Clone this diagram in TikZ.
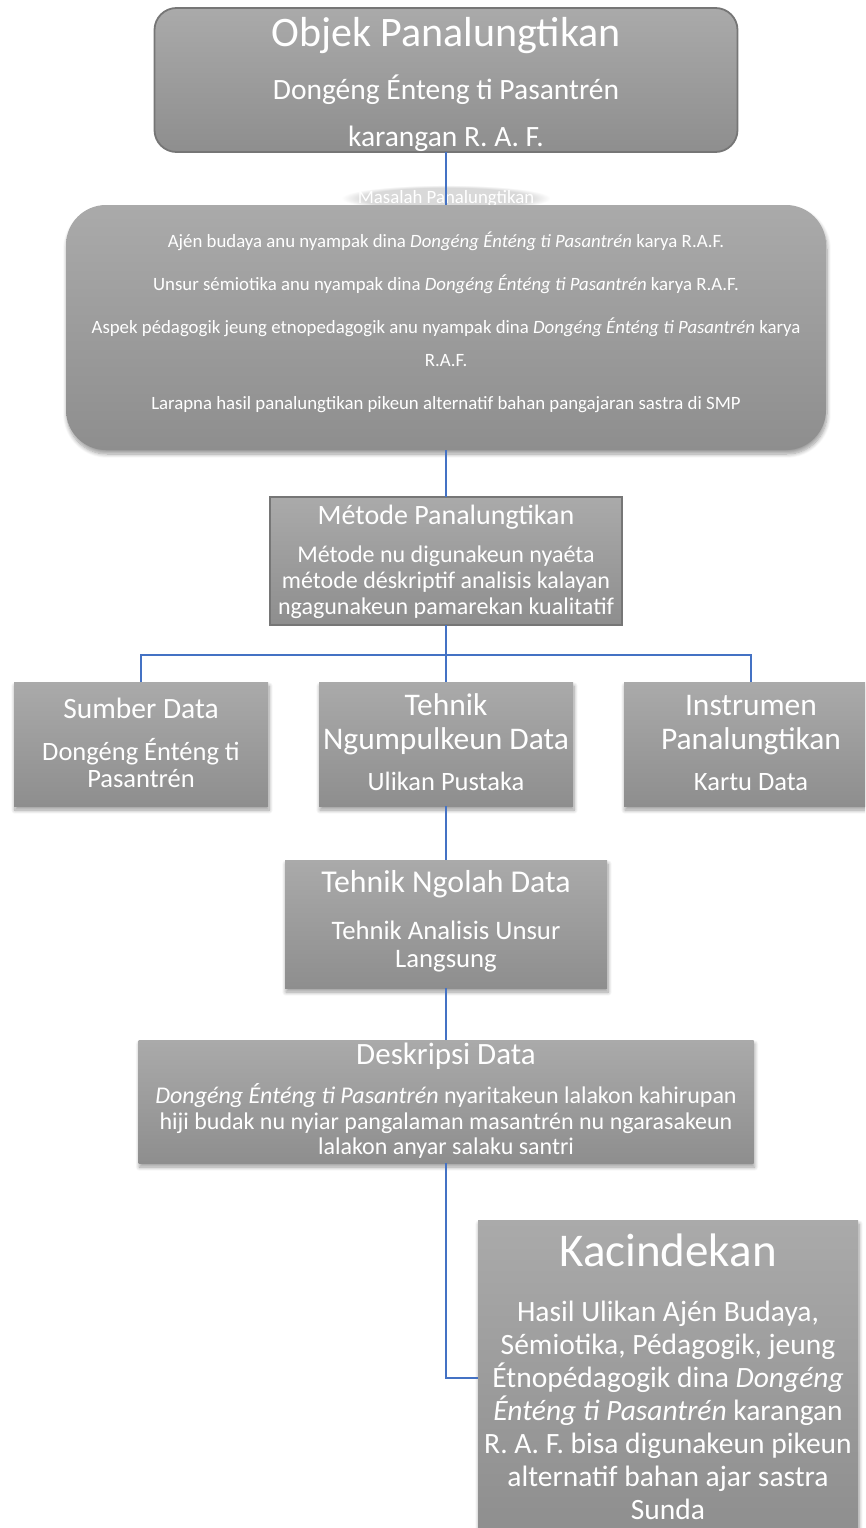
\documentclass[tikz,border=0pt]{standalone}
\usepackage{fontspec}
\setmainfont{Carlito}
\usepackage{tikz}
\usetikzlibrary{positioning, shadows.blur, fadings}
\definecolor{boxflat}{RGB}{165,165,165}
\definecolor{boxtop}{RGB}{170,170,170}
\definecolor{boxbottom}{RGB}{142,142,142}
\definecolor{boxline}{RGB}{118,118,118}
\definecolor{linkblue}{RGB}{68,114,196}
\tikzstyle{graybox} = [rectangle, inner sep=0pt, outer sep=0pt, align=center, text=white, top color=boxtop, bottom color=boxbottom]
\tikzstyle{boxshadow} = [blur shadow={shadow xshift=1pt, shadow yshift=-4pt, shadow blur radius=4pt, shadow blur steps=8, shadow opacity=40}]
\tikzstyle{objekbox} = [graybox, fill=boxflat, draw=boxline, line width=1.8pt, rounded corners=22pt, minimum width=583pt, text height=138pt, text depth=6pt, font=\fontsize{29.5}{47}\selectfont]
\tikzstyle{masalahbox} = [graybox, boxshadow, rounded corners=40pt, minimum width=760pt, text height=204.5pt, text depth=40.5pt, font=\fontsize{18.8}{33}\selectfont]
\tikzstyle{metodebox} = [graybox, fill=boxflat, draw=boxline, line width=1.8pt, minimum width=352pt, text height=117.5pt, text depth=10.5pt, font=\fontsize{24}{26}\selectfont]
\tikzstyle{databox} = [graybox, boxshadow, minimum width=254pt, text height=108.5pt, text depth=15.5pt, font=\fontsize{26.5}{34}\selectfont]
\tikzstyle{ngolahbox} = [graybox, boxshadow, minimum width=322pt, text height=107.5pt, text depth=20.5pt, font=\fontsize{26.7}{28}\selectfont]
\tikzstyle{deskripsibox} = [graybox, boxshadow, minimum width=615pt, text height=114.5pt, text depth=8.5pt, font=\fontsize{24}{25.5}\selectfont]
\tikzstyle{kacindekanbox} = [graybox, boxshadow, minimum width=380pt, text height=299pt, text depth=17pt, font=\fontsize{29.5}{33}\selectfont]
\tikzstyle{labelglow} = [inner xsep=16pt, inner ysep=5pt, outer sep=0pt, text=white, fill=black!15, path fading=circle with fuzzy edge 20 percent, font=\fontsize{18.8}{18.8}\selectfont]
\tikzstyle{connector} = [draw=linkblue, line width=1.8pt]
\newcommand{\ttl}[1]{\fontsize{#1}{#1}\selectfont}

\begin{document}
\begin{tikzpicture}
    \useasboundingbox (0pt,0pt) rectangle (865pt,-1528pt);
    \clip (0pt,0pt) rectangle (865pt,-1528pt);

    % Nodes
    \node (objek) [objekbox, anchor=north] at (446pt,-8pt) {{\ttl{42}Objek Panalungtikan}\\[6pt] Dongéng Énteng ti Pasantrén\\ karangan R. A. F.};
    \node (masalahlabel) [labelglow, below=33pt of objek] {Masalah Panalungtikan};
    \node (masalah) [masalahbox, below=53pt of objek] {Ajén budaya anu nyampak dina \textit{Dongéng Énténg ti Pasantrén} karya R.A.F.\\[10pt]
        Unsur sémiotika anu nyampak dina \textit{Dongéng Énténg ti Pasantrén} karya R.A.F.\\[10pt]
        Aspek pédagogik jeung etnopedagogik anu nyampak dina \textit{Dongéng Énténg ti Pasantrén} karya\\ R.A.F.\\[10pt]
        Larapna hasil panalungtikan pikeun alternatif bahan pangajaran sastra di SMP};
    \node (metode) [metodebox, below=47pt of masalah] {{\ttl{28}Métode Panalungtikan}\\[12pt] Métode nu digunakeun nyaéta\\ métode déskriptif analisis kalayan\\ ngagunakeun pamarekan kualitatif};
    \coordinate[below=30pt of metode] (fork);
    \node (ngumpul) [databox, below=57pt of metode] {{\ttl{31.5}Tehnik}\\ {\ttl{31.5}Ngumpulkeun Data}\\[7.5pt] Ulikan Pustaka};
    \node (sumber) [databox, left=51pt of ngumpul, text height=105.5pt, text depth=18.5pt, font=\fontsize{26.5}{27}\selectfont] {{\ttl{29.5}Sumber Data}\\[15.5pt] Dongéng Énténg ti\\ Pasantrén};
    \node (instrumen) [databox, right=51pt of ngumpul] {{\ttl{31.5}Instrumen}\\ {\ttl{31.5}Panalungtikan}\\[7.5pt] Kartu Data};
    \node (ngolah) [ngolahbox, below=54pt of ngumpul] {{\ttl{31.8}Tehnik Ngolah Data}\\[19.5pt] Tehnik Analisis Unsur\\ Langsung};
    \node (deskripsi) [deskripsibox, below=52pt of ngolah] {{\ttl{31}Deskripsi Data}\\[14pt] \textit{Dongéng Énténg ti Pasantrén} nyaritakeun lalakon kahirupan\\ hiji budak nu nyiar pangalaman masantrén nu ngarasakeun\\ lalakon anyar salaku santri};
    \node (kacindekan) [kacindekanbox, anchor=north west, below right=57pt and 32pt of deskripsi.south] {{\ttl{47}Kacindekan}\\[22pt] Hasil Ulikan Ajén Budaya,\\ Sémiotika, Pédagogik, jeung\\ Étnopédagogik dina \textit{Dongéng}\\ \textit{Énténg ti Pasantrén} karangan\\ R. A. F. bisa digunakeun pikeun\\ alternatif bahan ajar sastra\\ Sunda};

    % Lines
    \draw [connector] (objek) -- (masalah);
    \draw [connector] (masalah) -- (metode);
    \draw [connector] (metode) -- (fork) -| (sumber);
    \draw [connector] (fork) -- (ngumpul);
    \draw [connector] (fork) -| (instrumen);
    \draw [connector] (ngumpul) -- (ngolah);
    \draw [connector] (ngolah) -- (deskripsi);
    \draw [connector] (deskripsi) |- (kacindekan);

\end{tikzpicture}
\end{document}
